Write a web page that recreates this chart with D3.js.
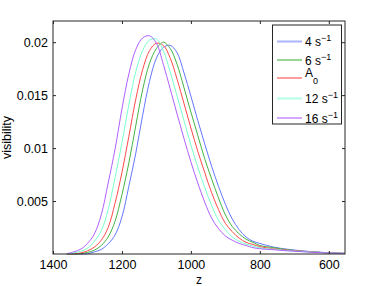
<!DOCTYPE html>
<html>
<head>
<meta charset="utf-8">
<script src="https://cdnjs.cloudflare.com/ajax/libs/d3/7.8.5/d3.min.js"></script>
<style>
body { margin: 0; background: #fff; }
text { font-family: "Liberation Sans", Arial, sans-serif; fill: #000; }
</style>
</head>
<body>
<script>
// z grid shared by all curves (x axis runs backwards)
var zValues = [1360,1340,1320,1300,1280,1260,1240,1220,1200,1180,1160,1140,1120,1100,1080,1060,1040,1020,1000,980,960,940,920,900,880,860,840,820,800,760,720,680,640,600,553];

var vis4  = [0,0,0,0.00003,0.0002,0.00043,0.00096,0.0018,0.0035,0.0064,0.0095,0.0131,0.0163,0.0185,0.0195,0.0197,0.0190,0.0171,0.0149,0.0126,0.0104,0.0083,0.0064,0.0047,0.0033,0.0023,0.0016,0.0012,0.0010,0.00065,0.00045,0.0003,0.0002,0.00012,0.00006];
var vis6  = [0,0,0.00002,0.00015,0.00036,0.0008,0.0016,0.0031,0.0056,0.0086,0.0121,0.0155,0.0180,0.0194,0.0200,0.0194,0.0179,0.0157,0.0134,0.0112,0.0090,0.0071,0.0053,0.0037,0.0026,0.0019,0.0014,0.0011,0.0008,0.0006,0.0004,0.00028,0.00018,0.00011,0.00006];
var visA0 = [0,0.00002,0.0001,0.0003,0.00065,0.0013,0.0025,0.0048,0.0077,0.0111,0.0146,0.0174,0.0192,0.0199,0.0197,0.0185,0.0165,0.0142,0.0119,0.0097,0.0077,0.0058,0.0042,0.0029,0.0021,0.0015,0.0011,0.0009,0.0007,0.0005,0.00036,0.00026,0.00017,0.00011,0.00005];
var vis12 = [0,0.0001,0.00025,0.00055,0.0012,0.0022,0.0042,0.0072,0.0105,0.0141,0.0172,0.0192,0.0202,0.0203,0.0192,0.0172,0.0149,0.0126,0.0103,0.0082,0.0063,0.0046,0.0032,0.0023,0.0016,0.0012,0.00095,0.00075,0.00058,0.00045,0.00032,0.00024,0.00016,0.0001,0.00005];
var vis16 = [0.00003,0.0002,0.00045,0.0010,0.0019,0.0037,0.0067,0.0099,0.0137,0.0170,0.0193,0.0204,0.0206,0.0199,0.0179,0.0156,0.0132,0.0109,0.0087,0.0067,0.0049,0.0034,0.0024,0.0017,0.0013,0.0010,0.0008,0.0006,0.0005,0.0004,0.0003,0.00022,0.00015,0.0001,0.00005];

var seriesNames = ["4", "6", "A0", "12", "16"];
var seriesColors = ["#6677ff", "#44b444", "#ff4a4a", "#77ffcc", "#b060ff"];
var seriesValues = [vis4, vis6, visA0, vis12, vis16];

var xTicks = [1400, 1200, 1000, 800, 600];
var yTicks = [0.005, 0.01, 0.015, 0.02];
var yTickLabels = ["0.005", "0.01", "0.015", "0.02"];

var margin = {top: 21, right: 36, bottom: 32, left: 53},
    width = 381 - margin.left - margin.right,
    height = 286 - margin.top - margin.bottom;

var x = d3.scaleLinear().domain([1400, 553]).range([0, width]);
var y = d3.scaleLinear().domain([0, 0.022]).range([height, 0]);

var svg = d3.select("body").append("svg")
    .attr("width", 381)
    .attr("height", 286)
  .append("g")
    .attr("transform", "translate(" + margin.left + "," + margin.top + ")");

// curves
var line = d3.line()
    .x(function(d) { return x(d[0]); })
    .y(function(d) { return y(d[1]); })
    .curve(d3.curveCatmullRom);

seriesValues.forEach(function(vals, i) {
  var pts = zValues.map(function(z, j) { return [z, vals[j]]; });
  svg.append("path")
      .datum(pts)
      .attr("fill", "none")
      .attr("stroke", seriesColors[i])
      .attr("stroke-width", 1)
      .attr("d", line);
});

// axes, ticks inside like matlab
var axisColor = "#262626";

var xAxis = svg.append("g")
    .attr("transform", "translate(0," + height + ")")
    .call(d3.axisBottom(x).tickValues(xTicks).tickSizeInner(-3).tickSizeOuter(0).tickPadding(6).tickFormat(d3.format("d")));
var xTop = svg.append("g")
    .call(d3.axisTop(x).tickValues(xTicks).tickSizeInner(-3).tickSizeOuter(0).tickFormat(""));
var yAxis = svg.append("g")
    .call(d3.axisLeft(y).tickValues(yTicks).tickSizeInner(-3).tickSizeOuter(0).tickPadding(5)
      .tickFormat(function(d, i) { return yTickLabels[i]; }));
var yRight = svg.append("g")
    .attr("transform", "translate(" + width + ",0)")
    .call(d3.axisRight(y).tickValues(yTicks).tickSizeInner(-3).tickSizeOuter(0).tickFormat(""));

[xAxis, xTop, yAxis, yRight].forEach(function(a) {
  a.select(".domain").remove();
  a.selectAll("line").attr("stroke", axisColor);
  a.selectAll("text").style("font-size", "12.5px").style("font-family", "'Liberation Sans', Arial, sans-serif").attr("fill", "#000");
});

svg.append("rect")
    .attr("width", width)
    .attr("height", height)
    .attr("fill", "none")
    .attr("stroke", axisColor)
    .attr("stroke-width", 1);

svg.append("text")
    .attr("x", width / 2)
    .attr("y", height + 29.5)
    .attr("text-anchor", "middle")
    .style("font-size", "12px")
    .text("z");

svg.append("text")
    .attr("transform", "translate(" + (-42) + "," + (height / 2) + ") rotate(-90)")
    .attr("text-anchor", "middle")
    .style("font-size", "12.5px")
    .text("visibility");

// legend
var legend = svg.append("g").attr("transform", "translate(" + (272.5 - margin.left) + "," + (25 - margin.top) + ")");
legend.append("rect")
    .attr("width", 69)
    .attr("height", 99)
    .attr("fill", "#fff")
    .attr("stroke", axisColor);

var rowY = [16.5, 35, 53, 73.5, 93];
seriesNames.forEach(function(name, i) {
  var g = legend.append("g").attr("transform", "translate(0," + rowY[i] + ")");
  g.append("line")
      .attr("x1", 4.5).attr("x2", 29.5)
      .attr("stroke", seriesColors[i])
      .attr("stroke-opacity", 0.55)
      .attr("stroke-width", 2);
  var t = g.append("text")
      .attr("x", 32.5)
      .attr("y", 4.5)
      .style("font-size", "12px");
  if (name === "A0") {
    t.attr("y", -1);
    t.append("tspan").text("A");
    t.append("tspan").attr("dy", 6.5).style("font-size", "9px").text("0");
  } else {
    t.append("tspan").text(name + " s");
    t.append("tspan").attr("dy", -5).style("font-size", "9px").text("\u22121");
  }
});
</script>
</body>
</html>
